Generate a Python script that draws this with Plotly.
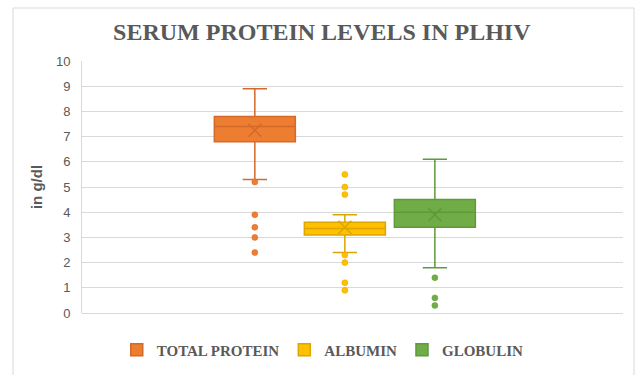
import plotly.graph_objects as go

# ---- data (g/dl) ----
series = ["TOTAL PROTEIN", "ALBUMIN", "GLOBULIN"]
q1 = [6.8, 3.1, 3.4]
median = [7.4, 3.35, 4.0]
q3 = [7.8, 3.6, 4.5]
lower_fence = [5.3, 2.4, 1.8]
upper_fence = [8.9, 3.9, 6.1]
means = [7.25, 3.4, 3.9]
outliers_tp = [5.2, 3.9, 3.4, 3.0, 2.4]
outliers_alb = [5.5, 5.0, 4.7, 2.3, 2.0, 1.2, 0.9]
outliers_glob = [1.4, 0.6, 0.3]
outliers = [outliers_tp, outliers_alb, outliers_glob]

fill_colors = ["#ED7D31", "#FFC000", "#70AD47"]
line_colors = ["#D5692A", "#DDA500", "#5E9A3A"]

fig = go.Figure()
for i, name in enumerate(series):
    fig.add_trace(go.Box(
        name=name,
        x=[name],
        q1=[q1[i]], median=[median[i]], q3=[q3[i]],
        lowerfence=[lower_fence[i]], upperfence=[upper_fence[i]],
        y=[outliers[i]],
        boxpoints="all", jitter=0, pointpos=0,
        fillcolor=fill_colors[i],
        line=dict(color=line_colors[i], width=1.5),
        marker=dict(color=fill_colors[i], size=6,
                    line=dict(color=line_colors[i], width=0.5)),
        whiskerwidth=0.3,
        width=0.9,
        showlegend=True,
    ))
    fig.add_trace(go.Scatter(
        x=[name], y=[means[i]], mode="markers",
        marker=dict(symbol="x-thin-open", size=13, color=line_colors[i],
                    line=dict(color=line_colors[i], width=1.5)),
        showlegend=False, hoverinfo="skip",
    ))

W, H = 636, 375
L, R, T, B = 82, 13, 61, 62
pw, ph = W - L - R, H - T - B

def px_x(p):
    return (p - L) / pw

def px_y(p):
    return (H - B - p) / ph

fig.update_layout(
    width=W, height=H,
    margin=dict(l=L, r=R, t=T, b=B, autoexpand=False),
    paper_bgcolor="white", plot_bgcolor="white",
    title=dict(text="<b>SERUM PROTEIN LEVELS IN PLHIV</b>",
               x=0.506, xanchor="center", y=1 - 32 / H, yanchor="middle",
               font=dict(family="Liberation Serif", size=24, color="#595959")),
    showlegend=True,
    legend=dict(orientation="h", x=0.445, xanchor="center",
                y=px_y(350), yanchor="middle",
                font=dict(family="Liberation Serif", size=15, color="#595959",
                          weight="bold"),
                itemwidth=30, traceorder="normal"),
    xaxis=dict(type="category", categoryorder="array", categoryarray=series,
               range=[-1.92, 4.09], showticklabels=False, showgrid=False,
               zeroline=False, showline=False, ticks=""),
    yaxis=dict(range=[0, 10], dtick=1, showgrid=True, gridcolor="#D9D9D9",
               gridwidth=1, zeroline=True, zerolinecolor="#D9D9D9",
               zerolinewidth=1, showline=True, linecolor="#D9D9D9",
               linewidth=1, ticks="outside", ticklen=8,
               tickcolor="rgba(0,0,0,0)",
               tickfont=dict(family="Liberation Sans", size=13, color="#595959"),
               title=dict(text="<b>in g/dl</b>", standoff=9,
                          font=dict(family="Liberation Sans", size=15,
                                    color="#595959"))),
    shapes=[dict(type="rect", xref="paper", yref="paper",
                 x0=px_x(13), x1=px_x(634), y0=px_y(378), y1=px_y(8),
                 line=dict(color="#D9D9D9", width=1), fillcolor="rgba(0,0,0,0)",
                 layer="below")],
)

fig.write_html(
    "out.html",
    config={"displayModeBar": False},
    post_script="document.body.style.margin='0';document.body.style.overflow='hidden';",
)
